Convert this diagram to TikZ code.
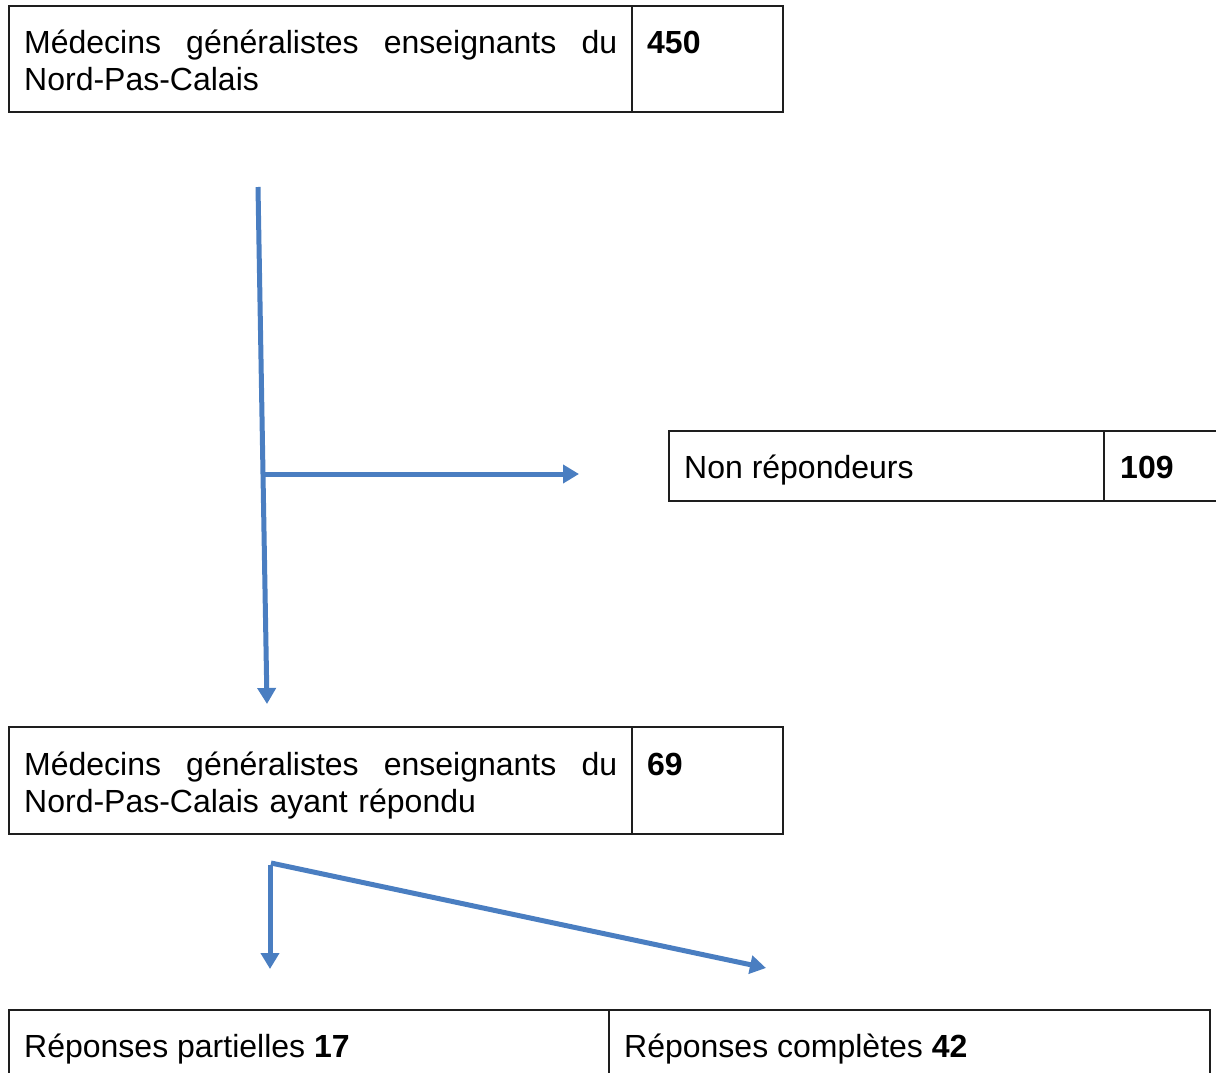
\documentclass[tikz,border=0pt]{standalone}
\usepackage{fontspec}
\setmainfont{Liberation Sans}
\usetikzlibrary{arrows.meta}
\definecolor{flowblue}{RGB}{74,126,193}
\definecolor{boxline}{RGB}{30,30,30}
\tikzset{
  box/.style={draw=boxline, line width=1.3pt},
  txt/.style={inner sep=0pt, anchor=base west, font=\fontsize{32}{37}\selectfont},
  para/.style={txt, text width=593pt, align=left},
  flow/.style={draw=flowblue, line width=5pt, -{Triangle[width=18pt,length=16pt]}}
}
\begin{document}
\begin{tikzpicture}[x=1pt,y=-1pt]
\useasboundingbox (0,0) rectangle (1216,1073);
% box 1
\draw[box] (9,6) rectangle (783,112);
\draw[box] (632,6) -- (632,112);
\node[para] (t1) at (24,54) {M\'edecins\hfill g\'en\'eralistes\hfill enseignants\hfill du\\Nord-Pas-Calais};
\node[txt] (n1) at (647,54) {\textbf{450}};
% non repondeurs
\draw[box] (669,431) rectangle (1240,501);
\draw[box] (1104,431) -- (1104,501);
\node[txt] (t2) at (684,478.5) {Non r\'epondeurs};
\node[txt] (n2) at (1120,478.5) {\textbf{109}};
% box 2
\draw[box] (9,727) rectangle (783,834);
\draw[box] (632,727) -- (632,834);
\node[para] (t3) at (24,775.5) {M\'edecins\hfill g\'en\'eralistes\hfill enseignants\hfill du\\Nord-Pas-Calais ayant r\'epondu};
\node[txt] (n3) at (647,775.5) {\textbf{69}};
% bottom boxes
\draw[box] (9,1010) rectangle (609,1100);
\draw[box] (609,1010) rectangle (1210,1100);
\node[txt] (t4) at (24,1057) {R\'eponses partielles \textbf{17}};
\node[txt] (t5) at (624,1057) {R\'eponses compl\`etes \textbf{42}};
% connectors
\coordinate (a0) at (258,187);
\coordinate (a1) at (267,704);
\coordinate (b0) at (262,474);
\coordinate (b1) at (579,474);
\coordinate (c0) at (271,863);
\coordinate (c1) at (766,968);
\coordinate (d0) at (270,865);
\coordinate (d1) at (270,969);
\draw[flow] (a0) -- (a1);
\draw[flow] (b0) -- (b1);
\draw[flow] (c0) -- (c1);
\draw[flow] (d0) -- (d1);
\end{tikzpicture}
\end{document}
